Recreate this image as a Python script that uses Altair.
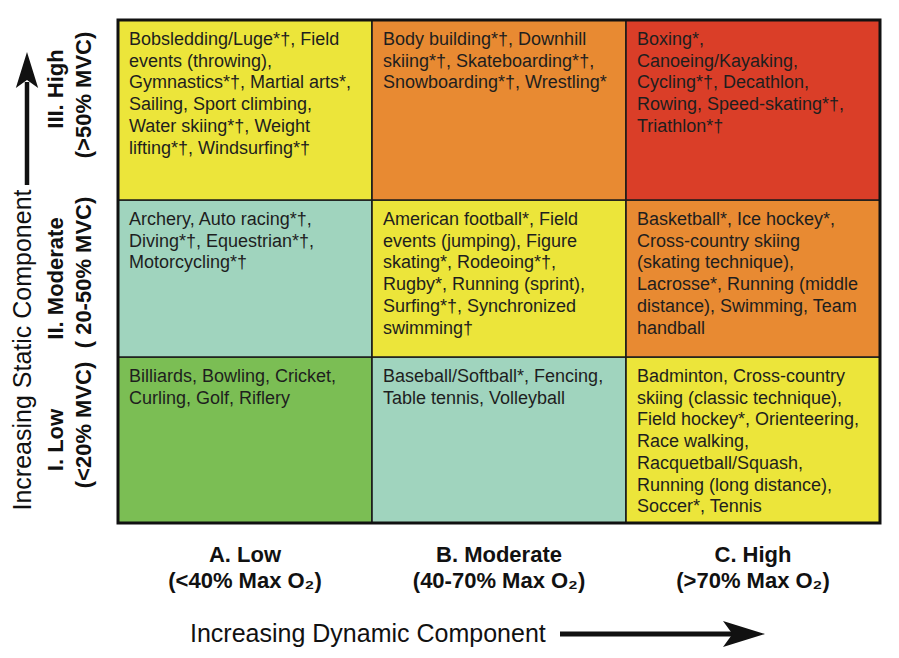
import altair as alt

# ---------------- data ----------------
dynamic_levels = ["A. Low", "B. Moderate", "C. High"]
dynamic_ranges = ["(<40% Max O\u2082)", "(40-70% Max O\u2082)", "(>70% Max O\u2082)"]

# static levels, from bottom (I) to top (III)
static_levels = ["I. Low", "II. Moderate", "III. High"]
static_ranges = ["(<20% MVC)", "( 20-50% MVC)", "(>50% MVC)"]

sports_low_static = [
    ["Billiards, Bowling, Cricket,", "Curling, Golf, Riflery"],
    ["Baseball/Softball*, Fencing,", "Table tennis, Volleyball"],
    ["Badminton, Cross-country", "skiing (classic technique),", "Field hockey*, Orienteering,",
     "Race walking,", "Racquetball/Squash,", "Running (long distance),", "Soccer*, Tennis"],
]
sports_moderate_static = [
    ["Archery, Auto racing*\u2020,", "Diving*\u2020, Equestrian*\u2020,", "Motorcycling*\u2020"],
    ["American football*, Field", "events (jumping), Figure", "skating*, Rodeoing*\u2020,",
     "Rugby*, Running (sprint),", "Surfing*\u2020, Synchronized", "swimming\u2020"],
    ["Basketball*, Ice hockey*,", "Cross-country skiing", "(skating technique),",
     "Lacrosse*, Running (middle", "distance), Swimming, Team", "handball"],
]
sports_high_static = [
    ["Bobsledding/Luge*\u2020, Field", "events (throwing),", "Gymnastics*\u2020, Martial arts*,",
     "Sailing, Sport climbing,", "Water skiing*\u2020, Weight", "lifting*\u2020, Windsurfing*\u2020"],
    ["Body building*\u2020, Downhill", "skiing*\u2020, Skateboarding*\u2020,", "Snowboarding*\u2020, Wrestling*"],
    ["Boxing*,", "Canoeing/Kayaking,", "Cycling*\u2020, Decathlon,", "Rowing, Speed-skating*\u2020,",
     "Triathlon*\u2020"],
]
sports = [sports_low_static, sports_moderate_static, sports_high_static]

# ---------------- layout / style ----------------
W, H = 762, 503
ROW_EDGES = [0, 166, 323, 503]          # row boundaries (bottom -> top), in plot units
LABEL1_SHIFT = [0, 0, 21]               # vertical nudges of the row labels (plot units, up)
LABEL2_SHIFT = [15, 6, 15]
LEVEL_COLORS = ["#7BBE54", "#A0D4BE", "#ECE53A", "#E88A32", "#DA3E28"]
FONT = "Liberation Sans"

cells = []
for r in range(3):
    for c in range(3):
        cells.append({
            "col": dynamic_levels[c],
            "y0": ROW_EDGES[r],
            "y1": ROW_EDGES[r + 1],
            "level": r + c,
            "lines": sports[r][c],
        })
rows = []
for r in range(3):
    mid = (ROW_EDGES[r] + ROW_EDGES[r + 1]) / 2
    rows.append({"label": static_levels[r], "range": static_ranges[r],
                 "y_a": mid + LABEL1_SHIFT[r], "y_b": mid + LABEL2_SHIFT[r]})
cols = [{"col": dynamic_levels[c], "range": dynamic_ranges[c]} for c in range(3)]

cell_data = alt.Data(values=cells)
row_data = alt.Data(values=rows)
col_data = alt.Data(values=cols)
one = alt.Data(values=[{"k": 1}])

xs = alt.Scale(domain=dynamic_levels, paddingInner=0, paddingOuter=0)
ys = alt.Scale(domain=[0, ROW_EDGES[-1]], nice=False, zero=False)

rects = alt.Chart(cell_data).mark_rect(stroke="#1b1b1b", strokeWidth=1.6).encode(
    x=alt.X("col:N", scale=xs, axis=None),
    y=alt.Y("y0:Q", scale=ys, axis=None),
    y2="y1:Q",
    color=alt.Color("level:O", scale=alt.Scale(domain=[0, 1, 2, 3, 4], range=LEVEL_COLORS), legend=None),
)

cell_text = alt.Chart(cell_data).mark_text(
    align="left", baseline="top", dx=11, dy=11, fontSize=18, lineHeight=21.7,
    font=FONT, color="#1e1e1e",
).encode(
    x=alt.X("col:N", scale=xs, axis=None, bandPosition=0),
    y=alt.Y("y1:Q", scale=ys, axis=None),
    text="lines:N",
)

frame = alt.Chart(one).mark_rect(filled=False, stroke="#111111", strokeWidth=3).encode(
    x=alt.value(0), x2=alt.value(W), y=alt.value(0), y2=alt.value(H)
)

row_lab1 = alt.Chart(row_data).mark_text(
    angle=270, align="center", baseline="alphabetic", fontSize=22, fontWeight="bold",
    font=FONT, color="#111111",
).encode(y=alt.Y("y_a:Q", scale=ys, axis=None), x=alt.value(-55), text="label:N")

row_lab2 = alt.Chart(row_data).mark_text(
    angle=270, align="center", baseline="alphabetic", fontSize=22, fontWeight="bold",
    font=FONT, color="#111111",
).encode(y=alt.Y("y_b:Q", scale=ys, axis=None), x=alt.value(-27), text="range:N")

col_lab1 = alt.Chart(col_data).mark_text(
    align="center", baseline="alphabetic", fontSize=22, fontWeight="bold",
    font=FONT, color="#111111",
).encode(x=alt.X("col:N", scale=xs, axis=None), y=alt.value(542), text="col:N")

col_lab2 = alt.Chart(col_data).mark_text(
    align="center", baseline="alphabetic", fontSize=22, fontWeight="bold",
    font=FONT, color="#111111",
).encode(x=alt.X("col:N", scale=xs, axis=None), y=alt.value(568), text="range:N")

x_title = alt.Chart(one).mark_text(
    align="left", baseline="alphabetic", fontSize=25, font=FONT, color="#111111",
    text="Increasing Dynamic Component",
).encode(x=alt.value(72), y=alt.value(622))

y_title = alt.Chart(one).mark_text(
    align="center", baseline="alphabetic", angle=270, fontSize=25, font=FONT, color="#111111",
    text="Increasing Static Component",
).encode(x=alt.value(-87), y=alt.value(330))

# arrows
h_shaft = alt.Chart(one).mark_rule(strokeWidth=5, color="#111111").encode(
    x=alt.value(442), x2=alt.value(615), y=alt.value(614)
)
h_head = alt.Chart(one).mark_point(
    shape="M -1 -0.62 L 1 0 L -1 0.62 L -0.55 0 Z", filled=True, size=1764,
    color="#111111", opacity=1, strokeWidth=0,
).encode(x=alt.value(626), y=alt.value(614))

v_shaft = alt.Chart(one).mark_rule(strokeWidth=4.5, color="#111111").encode(
    x=alt.value(-91), y=alt.value(165), y2=alt.value(62)
)
v_head = alt.Chart(one).mark_point(
    shape="M -0.62 1 L 0 -1 L 0.62 1 L 0 0.55 Z", filled=True, size=1296,
    color="#111111", opacity=1, strokeWidth=0,
).encode(x=alt.value(-91), y=alt.value(50))

chart = alt.layer(
    rects, cell_text, frame, row_lab1, row_lab2, col_lab1, col_lab2,
    x_title, y_title, h_shaft, h_head, v_shaft, v_head,
).properties(
    width=W, height=H,
    autosize=alt.AutoSizeParams(type="none"),
    padding={"left": 110, "top": 12, "right": 11, "bottom": 132},
    background="white",
).configure_view(stroke=None)

chart.save("out.html", embed_options={"renderer": "svg", "actions": False})
